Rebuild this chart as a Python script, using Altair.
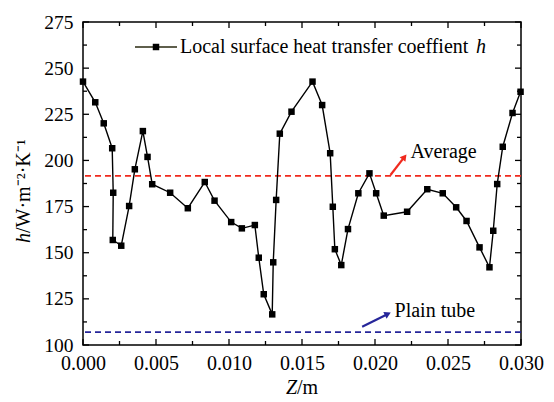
import altair as alt
import pandas as pd

# Local surface heat transfer coefficient along the tube axis
z_vals = [0.0000, 0.00084, 0.00142, 0.00200, 0.00207, 0.00204, 0.00262, 0.00316,
          0.00355, 0.00410, 0.00442, 0.00474, 0.00597, 0.00718, 0.00834, 0.00901,
          0.01015, 0.01088, 0.01177, 0.01204, 0.01238, 0.01296, 0.01303, 0.01323,
          0.01348, 0.01428, 0.01572, 0.01638, 0.01693, 0.01711, 0.01725, 0.01769,
          0.01815, 0.01886, 0.01962, 0.02008, 0.02060, 0.02220, 0.02358, 0.02464,
          0.02556, 0.02627, 0.02716, 0.02784, 0.02810, 0.02837, 0.02875, 0.02942,
          0.02997]
h_vals = [242.7, 231.5, 220.1, 206.6, 182.5, 156.9, 153.8, 175.3,
          195.2, 215.9, 201.9, 187.1, 182.5, 174.1, 188.3, 178.2,
          166.6, 163.2, 165.0, 147.3, 127.5, 116.6, 144.8, 178.6,
          214.5, 226.4, 242.7, 230.0, 203.9, 174.9, 151.9, 143.3,
          162.8, 182.2, 193.0, 182.2, 170.1, 172.2, 184.4, 182.2,
          174.6, 167.2, 152.9, 142.1, 161.9, 187.2, 207.4, 225.7,
          237.2]

average_h = 191.6
plain_tube_h = 107.0

x_ticks = [0.000, 0.005, 0.010, 0.015, 0.020, 0.025, 0.030]
x_minor = [0.0025, 0.0075, 0.0125, 0.0175, 0.0225, 0.0275]
y_ticks = [100, 125, 150, 175, 200, 225, 250, 275]
y_minor = [112.5, 137.5, 162.5, 187.5, 212.5, 237.5, 262.5]

W, H = 438, 323
FONT = "Liberation Serif"
RED = "#f02a1e"
BLUE = "#26269a"

xs = alt.Scale(domain=[0, 0.03], nice=False, zero=False)
ys = alt.Scale(domain=[100, 275], nice=False, zero=False)

df = pd.DataFrame({"z": z_vals, "h": h_vals, "order": range(len(z_vals))})

x_axis = alt.Axis(values=x_ticks, format=".3f", ticks=False, domain=False, grid=False,
                  labelFont=FONT, labelFontSize=20, labelColor="black",
                  labelFlush=False, labelPadding=8, title=None)
y_axis = alt.Axis(values=y_ticks, ticks=False, domain=False, grid=False,
                  labelFont=FONT, labelFontSize=19.5, labelColor="black",
                  labelFlush=False, labelPadding=10, title=None)

line = alt.Chart(df).mark_line(color="black", strokeWidth=1.4).encode(
    x=alt.X("z:Q", scale=xs, axis=x_axis),
    y=alt.Y("h:Q", scale=ys, axis=y_axis),
    order="order:Q",
)
pts = alt.Chart(df).mark_square(color="black", filled=True, size=42, opacity=1).encode(
    x=alt.X("z:Q", scale=xs), y=alt.Y("h:Q", scale=ys)
)

ref_df = pd.DataFrame({"h": [average_h, plain_tube_h], "kind": ["Average", "Plain tube"]})
avg_rule = alt.Chart(ref_df[ref_df.kind == "Average"]).mark_rule(
    color=RED, strokeWidth=1.8, strokeDash=[6, 4]
).encode(y=alt.Y("h:Q", scale=ys))
plain_rule = alt.Chart(ref_df[ref_df.kind == "Plain tube"]).mark_rule(
    color=BLUE, strokeWidth=1.8, strokeDash=[6, 4]
).encode(y=alt.Y("h:Q", scale=ys))

# annotation arrows (data coordinates)
arrows = pd.DataFrame({
    "z": [0.02106, 0.01912], "h": [192.1, 109.9],
    "z2": [0.02202, 0.02088], "h2": [201.9, 116.8],
    "ang": [38, 64], "col": [RED, BLUE],
})
arrow_lines = alt.Chart(arrows).mark_rule(strokeWidth=2.2).encode(
    x=alt.X("z:Q", scale=xs), y=alt.Y("h:Q", scale=ys),
    x2="z2:Q", y2="h2:Q", color=alt.Color("col:N", scale=None),
)
arrow_heads = alt.Chart(arrows).mark_point(shape="triangle-up", filled=True, size=55, opacity=1).encode(
    x=alt.X("z2:Q", scale=xs), y=alt.Y("h2:Q", scale=ys),
    angle=alt.Angle("ang:Q", scale=None), color=alt.Color("col:N", scale=None),
)

labels = pd.DataFrame({"z": [0.02243, 0.02134], "h": [201.3, 115.2],
                       "t": ["Average", "Plain tube"]})
label_text = alt.Chart(labels).mark_text(
    font=FONT, fontSize=20, align="left", baseline="alphabetic", color="black"
).encode(x=alt.X("z:Q", scale=xs), y=alt.Y("h:Q", scale=ys), text="t:N")

# inward tick marks on all four sides
def ticks(vals, axis, side, length):
    d = pd.DataFrame({"v": vals})
    c = alt.Chart(d).mark_rule(color="black", strokeWidth=1.3)
    if axis == "x":
        y0 = H if side == "bottom" else 0
        y1 = H - length if side == "bottom" else length
        return c.encode(x=alt.X("v:Q", scale=xs), y=alt.value(y0), y2=alt.value(y1))
    x0 = 0 if side == "left" else W
    x1 = length if side == "left" else W - length
    return c.encode(y=alt.Y("v:Q", scale=ys), x=alt.value(x0), x2=alt.value(x1))

tick_layers = []
for side in ["bottom", "top"]:
    tick_layers += [ticks(x_ticks, "x", side, 6), ticks(x_minor, "x", side, 4)]
for side in ["left", "right"]:
    tick_layers += [ticks(y_ticks, "y", side, 6), ticks(y_minor, "y", side, 4)]

# legend entry
one = pd.DataFrame({"a": [0]})
leg_line = alt.Chart(one).mark_rule(color="#2a2a10", strokeWidth=1.4).encode(
    x=alt.value(52), x2=alt.value(94), y=alt.value(25))
leg_pt = alt.Chart(one).mark_square(color="black", filled=True, size=42, opacity=1).encode(
    x=alt.value(73), y=alt.value(25))
leg_text = alt.Chart(one).mark_text(
    font=FONT, fontSize=20, align="left", baseline="alphabetic", color="black"
).encode(x=alt.value(97), y=alt.value(31), text=alt.value("Local surface heat transfer coeffient"))
leg_h = alt.Chart(one).mark_text(
    font=FONT, fontSize=20, fontStyle="italic", align="left", baseline="alphabetic", color="black"
).encode(x=alt.value(393), y=alt.value(31), text=alt.value("h"))

# axis titles with italic symbols
yt_h = alt.Chart(one).mark_text(
    font=FONT, fontSize=20, fontStyle="italic", align="right", baseline="middle", angle=270
).encode(x=alt.value(-59), y=alt.value(211), text=alt.value("h"))
yt_rest = alt.Chart(one).mark_text(
    font=FONT, fontSize=20, align="left", baseline="middle", angle=270
).encode(x=alt.value(-59), y=alt.value(211), text=alt.value("/W·m⁻²·K⁻¹"))
xt_z = alt.Chart(one).mark_text(
    font=FONT, fontSize=20, fontStyle="italic", align="right", baseline="alphabetic"
).encode(x=alt.value(214), y=alt.value(372), text=alt.value("Z"))
xt_rest = alt.Chart(one).mark_text(
    font=FONT, fontSize=20, align="left", baseline="alphabetic"
).encode(x=alt.value(214), y=alt.value(372), text=alt.value("/m"))

chart = alt.layer(
    avg_rule, plain_rule, line, pts, arrow_lines, arrow_heads, label_text,
    *tick_layers, leg_line, leg_pt, leg_text, leg_h, yt_h, yt_rest, xt_z, xt_rest,
).properties(
    width=W, height=H,
    padding={"left": 83, "top": 22, "right": 33, "bottom": 57},
    autosize=alt.AutoSizeParams(type="none"),
    background="white",
).configure_view(stroke="black", strokeWidth=1.5)

chart.save("out.html", embed_options={"renderer": "svg", "actions": False})
